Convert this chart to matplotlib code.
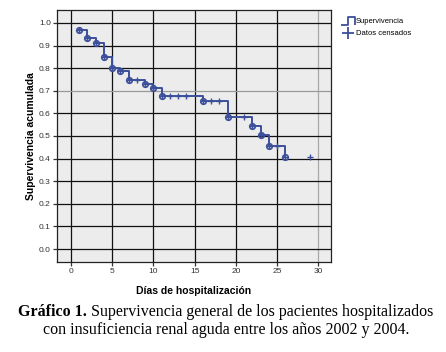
import numpy as np
import matplotlib
matplotlib.use('Agg')
import matplotlib.pyplot as plt
from matplotlib.lines import Line2D
from matplotlib.path import Path

# Kaplan-Meier estimate
event_days = [1, 2, 3, 4, 5, 6, 7, 9, 10, 11, 16, 19, 22, 23, 24, 26]
survival = [0.967, 0.935, 0.910, 0.850, 0.801, 0.788, 0.746, 0.729, 0.714,
            0.678, 0.653, 0.583, 0.545, 0.506, 0.457, 0.406]

# censored cases (day, level)
cens_days = [8, 12, 13, 14, 17, 18, 21, 25, 29]
cens_surv = [0.746, 0.678, 0.678, 0.678, 0.653, 0.653, 0.583, 0.457, 0.406]

x_ticks = [0, 5, 10, 15, 20, 25, 30]
y_ticks = [0.0, 0.1, 0.2, 0.3, 0.4, 0.5, 0.6, 0.7, 0.8, 0.9, 1.0]

blue = '#3c4f9a'
plt.rcParams['font.family'] = ['Liberation Sans', 'DejaVu Sans']

fig = plt.figure(figsize=(4.46, 3.52), dpi=100)
ax = fig.add_axes([57/446, 1-262/352, 274/446, 252/352])
ax.set_facecolor('#ececec')

ax.step(event_days, survival, where='post', color=blue, lw=1.4, zorder=3)
ax.plot(event_days, survival, 'o', ms=4, mfc='none', mec=blue, mew=1.2, zorder=4)
ax.plot(event_days, survival, '+', ms=4, color=blue, mew=1.0, zorder=4)
ax.plot(cens_days, cens_surv, '+', ms=5, color=blue, mew=1.0, zorder=4)

ax.set_xlim(-1.7, 31.55)
ax.set_ylim(-0.057, 1.057)
ax.set_xticks(x_ticks)
ax.set_yticks(y_ticks)
ax.set_yticklabels([f'{v:.1f}' for v in y_ticks])
ax.grid(True, color='#111111', lw=0.9)
ax.set_axisbelow(True)
ax.get_ygridlines()[7].set_color('#9a9a9a')
ax.get_xgridlines()[6].set_color('#a8a8a8')
for s in ax.spines.values():
    s.set_color('#222222')
    s.set_linewidth(0.9)
ax.tick_params(labelsize=6, colors='#333333', length=3, width=0.9, pad=1.5)

ax.set_xlabel('Días de hospitalización', fontsize=7.5, fontweight='bold', labelpad=8)
ax.set_ylabel('Supervivencia acumulada', fontsize=7.5, fontweight='bold', labelpad=2)

step_icon = Path([(-1, -0.6), (0, -0.6), (0, 0.6), (1, 0.6), (1, -0.6)])
handles = [Line2D([], [], ls='none', marker=step_icon, ms=10, mfc='none', mec=blue, mew=1.3),
           Line2D([], [], ls='none', marker='+', ms=8, color=blue, mew=1.3)]
fig.legend(handles, ['Supervivencia', 'Datos censados'], loc='upper left',
           bbox_to_anchor=(340/446, 1-15/352), frameon=False, fontsize=5.5,
           handlelength=1.2, handletextpad=0.5, labelspacing=0.6, borderaxespad=0)

# caption, bold prefix then regular text, centred
serif = ['Liberation Serif', 'DejaVu Serif']
fig.canvas.draw()
r = fig.canvas.get_renderer()
t1 = fig.text(0, 0, 'Gráfico 1.', family=serif, fontweight='bold', fontsize=11.5)
t2 = fig.text(0, 0, ' Supervivencia general de los pacientes hospitalizados', family=serif, fontsize=11.5)
w1 = t1.get_window_extent(r).width
w2 = t2.get_window_extent(r).width
x0 = (446 - w1 - w2) / 2 + 3
y1 = 1 - 316/352
t1.set_position((x0/446, y1))
t2.set_position(((x0 + w1)/446, y1))
fig.text(0.5 + 3/446, 1 - 334/352, 'con insuficiencia renal aguda entre los años 2002 y 2004.',
         family=serif, fontsize=11.5, ha='center')

fig.savefig('out.png', dpi=100)
